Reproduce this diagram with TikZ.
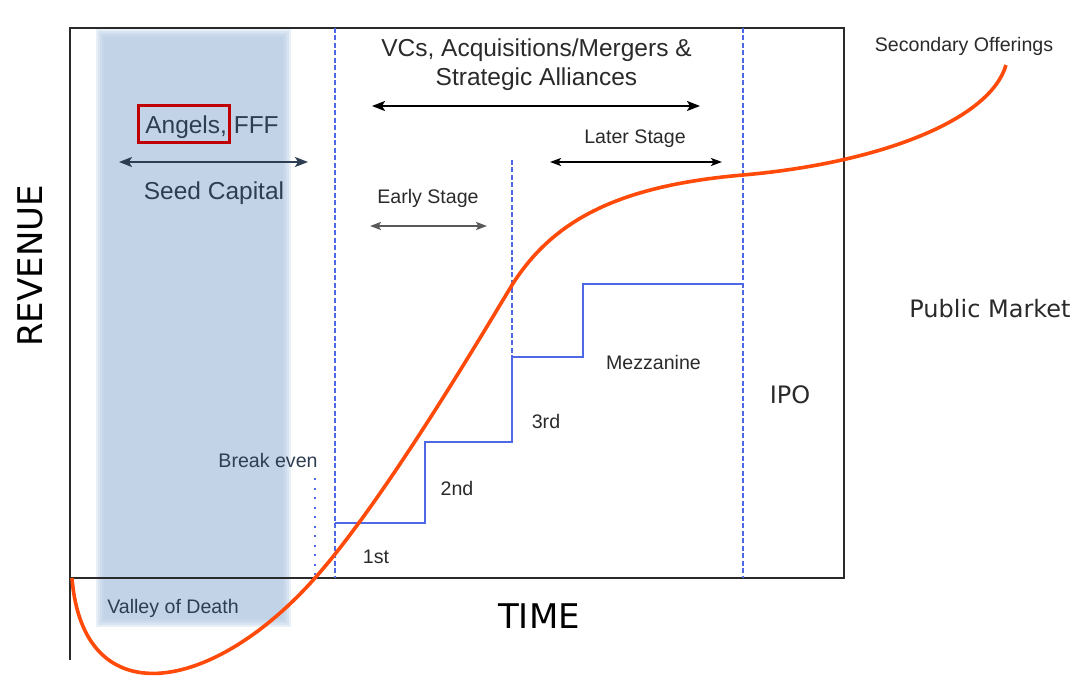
\documentclass[tikz,border=0pt]{standalone}
\usepackage{fontspec}
\setmainfont{Liberation Sans}
\newfontfamily\verdana{DejaVu Sans}
\usetikzlibrary{arrows.meta}
\definecolor{bandblue}{HTML}{B6CAE3}
\definecolor{stageblue}{HTML}{4F69E6}
\definecolor{curveorange}{HTML}{FF4A0A}
\definecolor{slate}{HTML}{2E3D52}
\definecolor{textgray}{HTML}{2A2A2A}
\definecolor{boxred}{HTML}{C00000}

\begin{document}
\begin{tikzpicture}[x=1pt, y=-1pt,
  lbl/.style={anchor=base, inner sep=0pt, text=textgray, font=\fontsize{19.6}{23}\selectfont},
  biglbl/.style={lbl, font=\fontsize{24.5}{29}\selectfont},
  axislbl/.style={anchor=base, inner sep=0pt, text=black, font=\verdana\fontsize{34}{40}\selectfont},
  mktlbl/.style={axislbl, text=textgray, font=\verdana\fontsize{24}{29}\selectfont},
  stageline/.style={draw=stageblue, line width=2.2pt, dash pattern=on 5pt off 2.5pt},
  spanarrow/.style={<->, line width=2.2pt},
  >={Stealth[length=13pt,width=10pt,inset=3pt]}]
\useasboundingbox (0,0) rectangle (1082,687);

% seed band, soft edges
\foreach \d in {0,...,4}
  \fill[bandblue, opacity=0.3] (96+2*\d,29+2*\d) rectangle (291-2*\d,627-2*\d);

% frame and axis
\draw[textgray, line width=2pt] (70,660) -- (70,28) -- (844,28) -- (844,578) -- (70,578);

% stage boundaries
\draw[stageline] (335,28) -- (335,578);
\draw[stageline] (743,28) -- (743,578);
\draw[stageline] (512,160) -- (512,357);
\draw[stageblue, line width=2pt, dash pattern=on 2pt off 7.5pt] (315,478) -- (315,578);

% funding rounds
\draw[stageblue, line width=2pt] (335,523) -- (425,523) -- (425,442) -- (512,442)
  -- (512,357) -- (583,357) -- (583,284) -- (743,284);

% revenue curve
\draw[curveorange, line width=3.6pt] (72,578) .. controls (83,716) and (212,694) .. (315,578)
  .. controls (380,505) and (470,355) .. (512,285)
  .. controls (552,222) and (615,186) .. (743,175)
  .. controls (880,163) and (990,120) .. (1006,65);

\node[biglbl] (vcs) at (536.5,57) {VCs, Acquisitions/Mergers \&};
\node[biglbl] (alliances) at (536.5,86) {Strategic Alliances};
\node[biglbl, text=slate] (angels) at (212,134) {Angels, FFF};
\node[biglbl, text=slate] (seed) at (214,200) {Seed Capital};
\node[lbl] (early) at (428,204) {Early Stage};
\node[lbl] (later) at (635,144) {Later Stage};
\node[lbl] (mezz) at (653.5,369) {Mezzanine};
\node[lbl] (third) at (546,428) {3rd};
\node[lbl] (second) at (457,495) {2nd};
\node[lbl] (first) at (376,563) {1st};
\node[lbl, text=slate] (breakeven) at (268,467) {Break even};
\node[lbl, text=slate] (valley) at (173,613) {Valley of Death};
\node[lbl] (secondary) at (964,52) {Secondary Offerings};
\node[mktlbl] (ipo) at (790,403) {IPO};
\node[mktlbl] (public) at (990,317) {Public Market};
\node[axislbl] (time) at (539,628) {TIME};
\node[axislbl, rotate=90] (revenue) at (42,266) {REVENUE};

\draw[boxred, line width=3pt] (138,106) rectangle (229,143);

\coordinate (vcsL) at (372,106);
\coordinate (vcsR) at (700,106);
\coordinate (seedL) at (119,162);
\coordinate (seedR) at (308,162);
\coordinate (earlyL) at (370,226);
\coordinate (earlyR) at (487,226);
\coordinate (laterL) at (550,162);
\coordinate (laterR) at (722,162);
\draw[spanarrow] (vcsL) -- (vcsR);
\draw[spanarrow, slate, line width=2pt] (seedL) -- (seedR);
\draw[spanarrow, draw=black!65, line width=2.4pt, >={Stealth[length=11pt,width=8pt,inset=2.5pt]}] (earlyL) -- (earlyR);
\draw[spanarrow, line width=1.8pt, >={Stealth[length=11pt,width=8pt,inset=2.5pt]}] (laterL) -- (laterR);
\end{tikzpicture}
\end{document}
